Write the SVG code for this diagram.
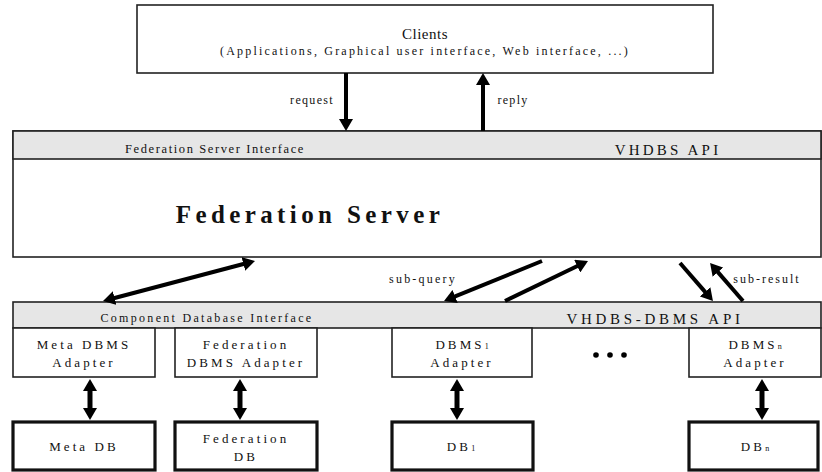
<svg xmlns="http://www.w3.org/2000/svg" width="822" height="472" viewBox="0 0 822 472">
<style>
text{font-family:"Liberation Serif","Times New Roman",serif;fill:#111;text-anchor:middle}
.box{fill:#fff;stroke:#222;stroke-width:1.6}
.db{fill:#fff;stroke:#111;stroke-width:3.2}
.bar{fill:#e6e6e6;stroke:#222;stroke-width:1.6}
.lbl{font-size:13px;letter-spacing:3.1px}
.sm{font-size:12px;letter-spacing:1.3px}
.arr{stroke:#000;stroke-width:4;fill:none}
.dbl{stroke:#000;stroke-width:5;fill:none}
.sub{font-size:8px;letter-spacing:0}
</style>
<defs>
<marker id="ah" viewBox="0 0 12 14" refX="2" refY="7" markerWidth="12" markerHeight="14" markerUnits="userSpaceOnUse" orient="auto-start-reverse">
<path d="M0,0 L12,7 L0,14 z" fill="#000"/>
</marker>
</defs>
<g id="clients">
<rect class="box" x="137" y="5" width="576" height="68"/>
<text x="425" y="39" style="font-size:15px;letter-spacing:0.5px">Clients</text>
<text x="425" y="55" style="font-size:12px;letter-spacing:2.2px">(Applications, Graphical user interface, Web interface, ...)</text>
</g>
<g id="federation-server">
<rect class="box" x="13" y="131" width="808" height="126"/>
<rect class="bar" x="13" y="131" width="808" height="28"/>
<text x="215" y="153" style="font-size:12.5px;letter-spacing:1.6px">Federation Server Interface</text>
<text x="668" y="155" style="font-size:15px;letter-spacing:3.2px">VHDBS API</text>
<text x="310" y="223" style="font-size:25px;font-weight:bold;letter-spacing:4.4px">Federation Server</text>
</g>
<g id="component-interface">
<rect class="bar" x="13" y="302" width="808" height="26"/>
<text x="207" y="322" style="font-size:12px;letter-spacing:2.3px">Component Database Interface</text>
<text x="655" y="324" style="font-size:15px;letter-spacing:3.7px">VHDBS-DBMS API</text>
</g>
<g id="meta-adapter">
<rect class="box" x="13" y="328" width="142" height="49"/>
<text x="84" y="349" class="lbl">Meta DBMS</text>
<text x="84" y="367" class="lbl">Adapter</text>
</g>
<g id="fed-adapter">
<rect class="box" x="175" y="328" width="142" height="49"/>
<text x="246" y="349" class="lbl">Federation</text>
<text x="246" y="367" class="lbl">DBMS Adapter</text>
</g>
<g id="dbms1-adapter">
<rect class="box" x="392" y="328" width="140" height="49"/>
<text x="462" y="349" class="lbl">DBMS<tspan class="sub">1</tspan></text>
<text x="462" y="367" class="lbl">Adapter</text>
</g>
<g id="ellipsis">
<circle cx="596" cy="355" r="2.8" fill="#000"/>
<circle cx="610" cy="355" r="2.8" fill="#000"/>
<circle cx="624" cy="355" r="2.8" fill="#000"/>
</g>
<g id="dbmsn-adapter">
<rect class="box" x="689" y="328" width="132" height="49"/>
<text x="755" y="349" class="lbl">DBMS<tspan class="sub">n</tspan></text>
<text x="755" y="367" class="lbl">Adapter</text>
</g>
<g id="meta-db">
<rect class="db" x="13" y="422" width="142" height="48"/>
<text x="84" y="451" class="lbl">Meta DB</text>
</g>
<g id="fed-db">
<rect class="db" x="175" y="422" width="142" height="48"/>
<text x="246" y="443" class="lbl">Federation</text>
<text x="246" y="461" class="lbl">DB</text>
</g>
<g id="db1">
<rect class="db" x="392" y="422" width="141" height="48"/>
<text x="461" y="451" class="lbl">DB<tspan class="sub">1</tspan></text>
</g>
<g id="dbn">
<rect class="db" x="689" y="422" width="129" height="48"/>
<text x="755" y="451" class="lbl">DB<tspan class="sub">n</tspan></text>
</g>
<g id="connectors">
<line class="arr" x1="346" y1="73" x2="346" y2="121" marker-end="url(#ah)"/>
<line class="arr" x1="483" y1="131" x2="483" y2="83" marker-end="url(#ah)"/>
<text x="312" y="104" class="sm">request</text>
<text x="513" y="104" class="sm">reply</text>
<line class="arr" x1="112.7" y1="298.5" x2="245.3" y2="263.5" marker-start="url(#ah)" marker-end="url(#ah)"/>
<line class="arr" x1="542" y1="261" x2="453.3" y2="297.2" marker-end="url(#ah)"/>
<line class="arr" x1="505" y1="301" x2="579" y2="265.3" marker-end="url(#ah)"/>
<line class="arr" x1="680" y1="263" x2="706.4" y2="293.4" marker-end="url(#ah)"/>
<line class="arr" x1="743" y1="301" x2="716.6" y2="270.6" marker-end="url(#ah)"/>
<text x="423" y="283" style="font-size:12px;letter-spacing:2.2px">sub-query</text>
<text x="767" y="283" style="font-size:12px;letter-spacing:2px">sub-result</text>
<line class="dbl" x1="90" y1="389" x2="90" y2="410" marker-start="url(#ah)" marker-end="url(#ah)"/>
<line class="dbl" x1="240" y1="389" x2="240" y2="410" marker-start="url(#ah)" marker-end="url(#ah)"/>
<line class="dbl" x1="457" y1="389" x2="457" y2="410" marker-start="url(#ah)" marker-end="url(#ah)"/>
<line class="dbl" x1="762" y1="389" x2="762" y2="410" marker-start="url(#ah)" marker-end="url(#ah)"/>
</g>
</svg>
